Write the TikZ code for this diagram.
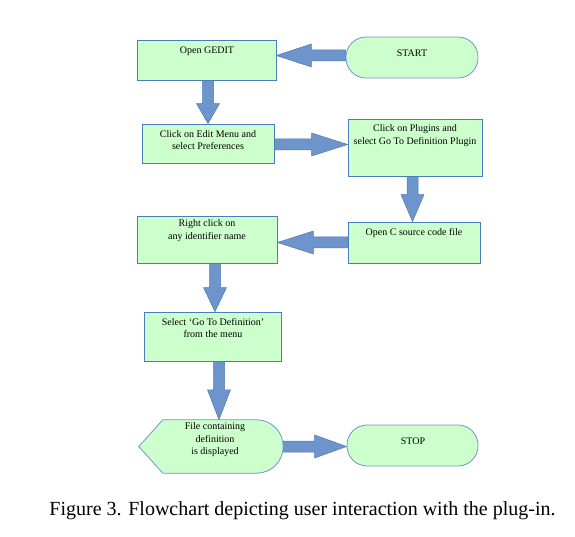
\documentclass[tikz,border=0pt]{standalone}
\usepackage{fontspec}
\setmainfont{Liberation Serif}
\usetikzlibrary{calc,backgrounds}
\definecolor{boxfill}{RGB}{204,255,204}
\definecolor{boxline}{RGB}{74,126,187}
\definecolor{termline}{RGB}{110,150,200}
\definecolor{arrfill}{RGB}{109,149,203}
\definecolor{arrline}{RGB}{82,120,180}
\newcommand\blockarrow[3]{%
  \coordinate (ba-s) at (#1);
  \coordinate (ba-t) at (#2);
  \coordinate (ba-b) at ($(ba-t)!#3!(ba-s)$);
  \filldraw[barrow] ($(ba-s)!5.5pt!90:(ba-t)$) -- ($(ba-b)!5.5pt!90:(ba-t)$)
    -- ($(ba-b)!11.5pt!90:(ba-t)$) -- (ba-t) -- ($(ba-b)!11.5pt!-90:(ba-t)$)
    -- ($(ba-b)!5.5pt!-90:(ba-t)$) -- ($(ba-s)!5.5pt!-90:(ba-t)$) -- cycle;
}
\begin{document}
\begin{tikzpicture}[x=1pt,y=-1pt,
  procbox/.style={draw=boxline, fill=boxfill, line width=0.8pt, inner sep=0pt},
  termbox/.style={draw=termline, fill=boxfill, line width=0.8pt, inner sep=0pt, rounded corners=20pt},
  btext/.style={font=\fontsize{10}{12.5}\selectfont, align=center, inner sep=0pt},
  barrow/.style={fill=arrfill, draw=arrline, line width=0.5pt, line join=miter},
  caption/.style={font=\fontsize{20}{24}\selectfont, inner sep=0pt}]
\useasboundingbox (0,0) rectangle (575,537);

% boxes
\node[procbox, minimum width=139pt, minimum height=40pt] (gedit) at (206.5,60) {};
\node[termbox, minimum width=132pt, minimum height=41pt] (start) at (412,57.5) {};
\node[procbox, minimum width=132pt, minimum height=39pt] (edit) at (208,143.5) {};
\node[procbox, minimum width=134pt, minimum height=57pt] (plug) at (415,147.5) {};
\node[procbox, minimum width=132pt, minimum height=41pt] (openc) at (414,242.5) {};
\node[procbox, minimum width=140pt, minimum height=47pt] (right) at (207,239.5) {};
\node[procbox, minimum width=137pt, minimum height=49pt] (select) at (212.5,336.5) {};
\node[inner sep=0pt, minimum width=144pt, minimum height=53pt] (file) at (211,446.5) {};
\draw[draw=termline, fill=boxfill, line width=0.8pt]
  (file.west) -- ($(file.north west)+(24,0)$) [rounded corners=26.5pt] -- (file.north east)
  -- (file.south east) [sharp corners] -- ($(file.south west)+(24,0)$) -- cycle;
\node[termbox, minimum width=131pt, minimum height=41pt] (stop) at (412.5,445.5) {};

% texts
\node[btext] (t-gedit) at (207,51) {Open GEDIT};
\node[btext] (t-start) at (412,53) {START};
\node[btext] (t-edit) at (208,140) {Click on Edit Menu and\\select Preferences};
\node[btext] (t-plug) at (415,135.5) {Click on Plugins and\\select Go To Definition Plugin};
\node[btext] (t-openc) at (414,233) {Open C source code file};
\node[btext] (t-right) at (207,230.5) {Right click on\\any identifier name};
\node[btext] (t-select) at (213,328) {Select `Go To Definition'\\from the menu};
\node[btext] (t-file) at (215,440) {File containing\\definition\\is displayed};
\node[btext] (t-stop) at (413,441) {STOP};

\node[caption] (cap) at (302.5,511) {Figure 3. Flowchart depicting user interaction with the plug-in.};

% arrows
\coordinate (a1) at ($(start.west)+(0,-2)$);
\coordinate (a2) at ($(gedit.south)+(1.5,0)$);
\coordinate (a3) at ($(edit.east)+(0,1)$);
\coordinate (a4) at ($(plug.south)+(-2.5,0)$);
\coordinate (a6) at ($(right.south)+(8,0)$);
\coordinate (a7) at ($(select.south)+(6.5,0)$);
\begin{scope}[on background layer]
\blockarrow{a1}{a1 -| gedit.east}{35pt}
\blockarrow{a2}{a2 |- edit.north}{20pt}
\blockarrow{a3}{a3 -| plug.west}{36pt}
\blockarrow{a4}{a4 |- openc.north}{27pt}
\blockarrow{openc.west}{openc.west -| right.east}{36pt}
\blockarrow{a6}{a6 |- select.north}{24pt}
\blockarrow{a7}{a7 |- file.north}{30pt}
\blockarrow{file.east}{file.east -| stop.west}{32pt}
\end{scope}
\end{tikzpicture}
\end{document}
